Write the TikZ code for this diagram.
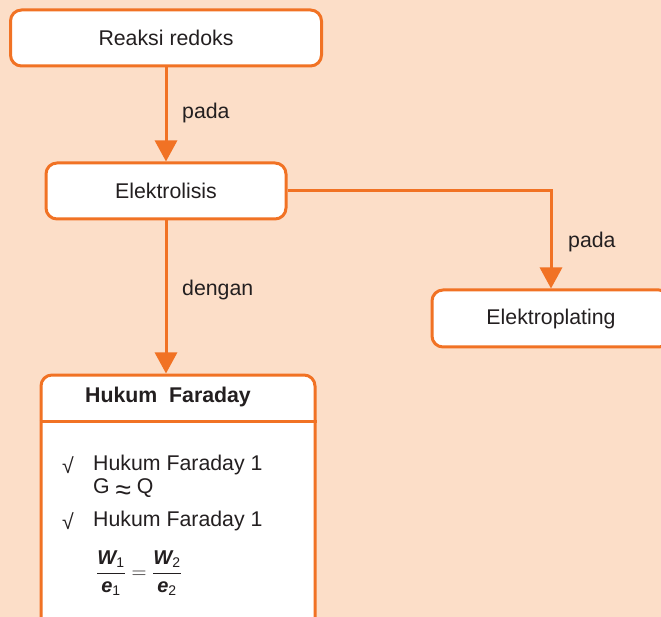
\documentclass[tikz,border=0pt]{standalone}
\usepackage{fontspec}
\usepackage{amsmath}
\setmainfont{Liberation Sans}
\usetikzlibrary{arrows.meta,positioning}
\definecolor{bgpeach}{RGB}{252,222,200}
\definecolor{lineorange}{RGB}{241,114,36}
\definecolor{inkgray}{RGB}{35,31,32}
\tikzset{
  box/.style={draw=lineorange, line width=3pt, rounded corners=11pt, fill=white,
    text=inkgray, font=\fontsize{21.3}{25}\selectfont, inner sep=0pt},
  conn/.style={draw=lineorange, line width=3pt,
    -{Triangle[length=21pt,width=22pt]}},
  lbl/.style={anchor=west, text=inkgray, font=\fontsize{21.3}{25}\selectfont, inner sep=0pt},
}
\begin{document}
\begin{tikzpicture}[x=1pt,y=-1pt]
\fill[bgpeach] (0,0) rectangle (661,617);
\clip (0,0) rectangle (661,617);

% concept boxes
\node[box, minimum width=311pt, minimum height=56pt] (reaksi) at (166,38) {Reaksi redoks};
\node[box, minimum width=240pt, minimum height=56pt] (elektrolisis) at (166,191) {Elektrolisis};
\node[box, minimum width=238pt, minimum height=57pt] (elektroplating) at (551,318.5) {Elektroplating};
\node[box, minimum width=274pt, minimum height=285pt] (faraday) at (178,517.5) {};

% header and contents of the Faraday box
\node[lbl, anchor=center, font=\fontsize{21.3}{25}\selectfont\bfseries] (fhead) at (168,397) {Hukum\ \ Faraday};
\draw[lineorange, line width=3pt] (faraday.west |- 0,421) -- (faraday.east |- 0,421);
\node[lbl, anchor=center] (tick1) at (68,465) {√};
\node[lbl] (hukum1) at (93,465) {Hukum Faraday 1};
\node[lbl] (gq) at (93,489) {G {\fontsize{28}{28}\selectfont\raisebox{-6pt}{≈}} Q};
\node[lbl, anchor=center] (tick2) at (68,521) {√};
\node[lbl] (hukum2) at (93,521) {Hukum Faraday 1};
\node[lbl, anchor=west, font=\fontsize{20}{24}\selectfont] (rumus) at (96,573)
  {$\dfrac{\textit{\textbf{W}}_{\textup{1}}}{\textit{\textbf{e}}_{\textup{1}}}=\dfrac{\textit{\textbf{W}}_{\textup{2}}}{\textit{\textbf{e}}_{\textup{2}}}$};

% connectors
\draw[conn] (reaksi.south) -- (elektrolisis.north);
\draw[conn] (elektrolisis.east) -| (elektroplating.north);
\draw[conn] (elektrolisis.south) -- (elektrolisis.south |- faraday.north);

% connector labels
\node[lbl] (pada1) at (182,113) {pada};
\node[lbl] (pada2) at (568,242) {pada};
\node[lbl] (dengan) at (182,290) {dengan};
\end{tikzpicture}
\end{document}
